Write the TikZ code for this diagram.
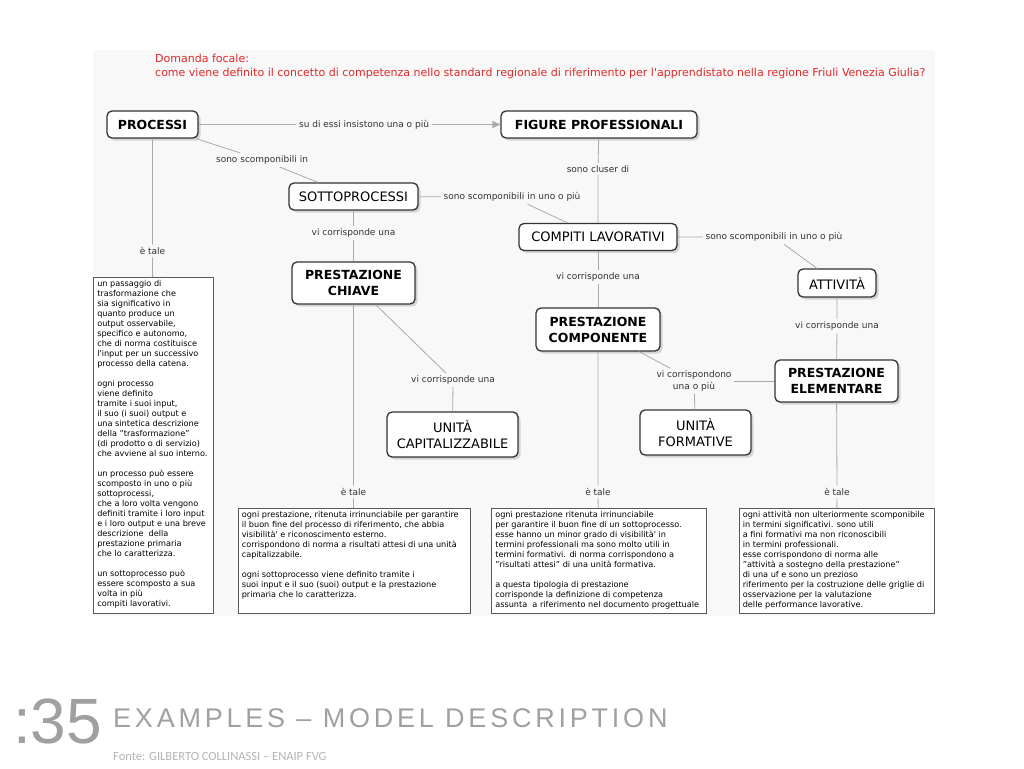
\documentclass[tikz,border=0pt]{standalone}
\usepackage{fontspec}
\setmainfont{DejaVu Sans}
\newfontfamily\slidefont{Liberation Sans}
\newfontfamily\spacedfont[LetterSpace=14]{Liberation Sans}
\newfontfamily\fontefont{Carlito}
\usetikzlibrary{arrows.meta,shadows}
\definecolor{focusred}{RGB}{225,40,40}
\definecolor{mapbg}{RGB}{248,248,248}
\definecolor{linkgray}{RGB}{170,170,170}
\definecolor{slidegray}{RGB}{160,160,160}
\begin{document}
\begin{tikzpicture}[x=1pt,y=-1pt,
    concept/.style={draw=black!80, line width=1.3pt, rounded corners=5pt, fill=white, align=center, inner sep=2pt,
      drop shadow={shadow xshift=2.5pt, shadow yshift=-2.5pt, fill=black!30}, font=\fontsize{13}{16}\selectfont},
    keyconcept/.style={concept, font=\fontsize{12.5}{16}\selectfont\bfseries},
    phrase/.style={inner sep=2.5pt, align=center, text=black!80, font=\fontsize{9}{11.5}\selectfont},
    notebox/.style={draw=black!65, line width=0.6pt, fill=white, anchor=north west, inner xsep=4pt, inner ysep=3pt,
      font=\fontsize{8.15}{10}\selectfont},
    link/.style={draw=linkgray, line width=0.8pt}]
    \useasboundingbox (0,0) rectangle (1024,768);
    \fill[mapbg] (93,50) rectangle (935,616);
    % domanda focale
    \node[anchor=north west, inner sep=0, align=left, text=focusred, font=\fontsize{11}{14}\selectfont] (domanda) at (155,54)
      {Domanda focale:\\come viene definito il concetto di competenza nello standard regionale di riferimento per l\textquotesingle apprendistato nella regione Friuli Venezia Giulia?};
    % concetti
    \node[keyconcept, minimum width=91pt, minimum height=27pt] (processi) at (152.5,124.5) {PROCESSI};
    \node[keyconcept, minimum width=196pt, minimum height=27pt] (figure) at (599,124.5) {FIGURE PROFESSIONALI};
    \node[concept, minimum width=129pt, minimum height=27pt] (sotto) at (353.5,196.5) {SOTTOPROCESSI};
    \node[concept, minimum width=158pt, minimum height=27pt] (compiti) at (598,237) {COMPITI LAVORATIVI};
    \node[keyconcept, minimum width=123pt, minimum height=42pt] (chiave) at (353.5,283) {PRESTAZIONE\\CHIAVE};
    \node[keyconcept, minimum width=124pt, minimum height=43pt] (componente) at (598,329.5) {PRESTAZIONE\\COMPONENTE};
    \node[concept, minimum width=78pt, minimum height=28pt] (attivita) at (837,283) {ATTIVITÀ};
    \node[keyconcept, minimum width=123pt, minimum height=42pt] (elementare) at (836.5,381) {PRESTAZIONE\\ELEMENTARE};
    \node[concept, minimum width=131pt, minimum height=45pt] (capital) at (452.5,434.5) {UNITÀ\\CAPITALIZZABILE};
    \node[concept, minimum width=111pt, minimum height=45pt] (formative) at (695.5,432.5) {UNITÀ\\FORMATIVE};
    % frasi di collegamento
    \node[phrase] (l1) at (364,124.5) {su di essi insistono una o più};
    \node[phrase] (l2) at (262,160) {sono scomponibili in};
    \node[phrase] (l3) at (152.5,251) {è tale};
    \node[phrase] (l4) at (353.5,233) {vi corrisponde una};
    \node[phrase] (l5) at (512,197) {sono scomponibili in uno o più};
    \node[phrase] (l6) at (598,169) {sono cluser di};
    \node[phrase] (l7) at (774,237) {sono scomponibili in uno o più};
    \node[phrase] (l8) at (598,277) {vi corrisponde una};
    \node[phrase] (l9) at (837,326) {vi corrisponde una};
    \node[phrase] (l10) at (453,380) {vi corrisponde una};
    \node[phrase] (l11) at (694,381) {vi corrispondono\\una o più};
    \node[phrase] (l12) at (353.5,492) {è tale};
    \node[phrase] (l13) at (598,492) {è tale};
    \node[phrase] (l14) at (837,492) {è tale};
    % descrizioni
    \node[notebox] (tale1) at (93,277) {\parbox[t][330pt][t]{112pt}{%
      un passaggio di\\trasformazione che\\sia significativo in\\quanto produce un\\output osservabile,\\specifico e autonomo,\\che di norma costituisce\\l\textquotesingle input per un successivo\\processo della catena.\\[10pt]
      ogni processo\\viene definito\\tramite i suoi input,\\il suo (i suoi) output e\\una sintetica descrizione\\della "trasformazione"\\(di prodotto o di servizio)\\che avviene al suo interno.\\[10pt]
      un processo può essere\\scomposto in uno o più\\sottoprocessi,\\che a loro volta vengono\\definiti tramite i loro input\\e i loro output e una breve\\descrizione\ \ della\\prestazione primaria\\che lo caratterizza.\\[10pt]
      un sottoprocesso può\\essere scomposto a sua\\\ volta in più\\compiti lavorativi.}};
    \node[notebox] (tale2) at (237.5,508) {\parbox[t][99pt][t]{224pt}{%
      ogni prestazione, ritenuta irrinunciabile per garantire\\il buon fine del processo di riferimento, che abbia\\visibilità\textquotesingle\ e riconoscimento esterno.\\corrispondono di norma a risultati attesi di una unità\\capitalizzabile.\\[10pt]
      ogni sottoprocesso viene definito tramite i\\suoi input e il suo (suoi) output e la prestazione\\primaria che lo caratterizza.}};
    \node[notebox] (tale3) at (491,508) {\parbox[t][99pt][t]{207pt}{%
      ogni prestazione ritenuta irrinunciabile\\per garantire il buon fine di un sottoprocesso.\\esse hanno un minor grado di visibilità\textquotesingle\ in\\termini professionali ma sono molto utili in\\termini formativi. di norma corrispondono a\\"risultati attesi" di una unità formativa.\\[10pt]
      a questa tipologia di prestazione\\corrisponde la definizione di competenza\\assunta\ \ a riferimento nel documento progettuale}};
    \node[notebox] (tale4) at (738.5,508) {\parbox[t][99pt][t]{187pt}{%
      ogni attività non ulteriormente scomponibile\\in termini significativi. sono utili\\a fini formativi ma non riconoscibili\\in termini professionali.\\esse corrispondono di norma alle\\"attività a sostegno della prestazione"\\di una uf e sono un prezioso\\riferimento per la costruzione delle griglie di\\osservazione per la valutazione\\delle performance lavorative.}};
    % collegamenti
    \draw[link] (processi) -- (l1);
    \draw[link, -{Triangle[width=7pt,length=8pt]}, linkgray] (l1) -- (figure);
    \draw[link] (processi) -- (l2) -- (sotto);
    \draw[link] (processi) -- (l3) -- (tale1);
    \draw[link] (sotto) -- (l4) -- (chiave);
    \draw[link] (sotto) -- (l5) -- (compiti);
    \draw[link] (figure) -- (l6) -- (compiti);
    \draw[link] (compiti) -- (l7) -- (attivita);
    \draw[link] (compiti) -- (l8) -- (componente);
    \draw[link] (attivita) -- (l9) -- (elementare);
    \draw[link] (chiave) -- (l10) -- (capital);
    \draw[link] (componente) -- (l11) -- (formative);
    \draw[link] (elementare) -- (l11);
    \draw[link] (chiave) -- (l12) -- (tale2);
    \draw[link] (componente) -- (l13) -- (tale3);
    \draw[link] (elementare) -- (l14) -- (tale4);
    % piede della slide
    \node[anchor=base west, inner sep=0, text=slidegray, font=\slidefont\fontsize{64}{64}\selectfont] (numero) at (13,743) {:35};
    \node[anchor=base west, inner sep=0, text=slidegray, font=\spacedfont\fontsize{27}{27}\selectfont] (titolo) at (113,727) {EXAMPLES – MODEL DESCRIPTION};
    \node[anchor=base west, inner sep=0, text=slidegray!80, font=\fontefont\fontsize{12.5}{13}\selectfont] (fonte) at (113,760) {Fonte: GILBERTO COLLINASSI – ENAIP FVG};
\end{tikzpicture}
\end{document}
